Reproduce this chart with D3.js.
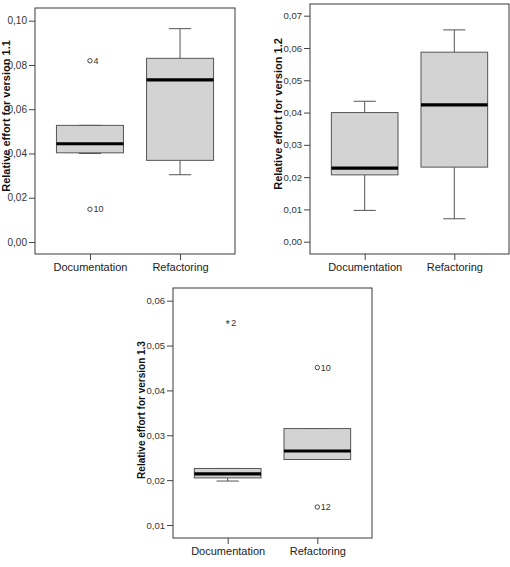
<!DOCTYPE html>
<html>
<head>
<meta charset="UTF-8">
<title>Relative effort boxplots</title>
<script src="https://cdnjs.cloudflare.com/ajax/libs/d3/7.8.5/d3.min.js"></script>
<style>
  body { margin: 0; background: #fff; }
  svg text { font-family: "Liberation Sans", Arial, sans-serif; }
</style>
</head>
<body>
<div id="draw-here"></div>
<script>

// Data

var categories = ["Documentation", "Refactoring"];

// each box: [lower whisker, q1, median, q3, upper whisker]
var boxes11 = [[0.0400, 0.0403, 0.0444, 0.0527, 0.0527], [0.0304, 0.0369, 0.0733, 0.0830, 0.0964]];
var boxes12 = [[0.0097, 0.0207, 0.0228, 0.0400, 0.0435], [0.0071, 0.0231, 0.0424, 0.0587, 0.0656]];
var boxes13 = [[0.0198, 0.0205, 0.0214, 0.0226, 0.0226], [0.0246, 0.0246, 0.0265, 0.0315, 0.0315]];

// outliers: [category index, value, case label, marker]
var outliers11 = [[0, 0.0819, "4", "o"], [0, 0.0148, "10", "o"]];
var outliers12 = [];
var outliers13 = [[0, 0.0550, "2", "*"], [1, 0.0451, "10", "o"], [1, 0.0140, "12", "o"]];

var yTicks11 = [0, 0.02, 0.04, 0.06, 0.08, 0.10];
var yTicks12 = [0, 0.01, 0.02, 0.03, 0.04, 0.05, 0.06, 0.07];
var yTicks13 = [0.01, 0.02, 0.03, 0.04, 0.05, 0.06];

var svg = d3.select("#draw-here")
    .append("svg")
    .attr("width", 510)
    .attr("height", 567);

drawPanel({
    left: 35, top: 8, width: 200, height: 246,
    domain: [0, 0.10], range: [242, 20.7],
    ticks: yTicks11, boxes: boxes11, outliers: outliers11,
    title: "Relative effort for version 1.1", titleX: 10, titleY: 116, titleSize: 11, tickFont: 10
});

drawPanel({
    left: 310, top: 4, width: 199, height: 250,
    domain: [0, 0.07], range: [241.7, 15.7],
    ticks: yTicks12, boxes: boxes12, outliers: outliers12,
    title: "Relative effort for version 1.2", titleX: 282, titleY: 114, titleSize: 11, tickFont: 9.5
});

drawPanel({
    left: 173, top: 288, width: 199, height: 250,
    domain: [0.01, 0.06], range: [525, 300.7],
    ticks: yTicks13, boxes: boxes13, outliers: outliers13,
    title: "Relative effort for version 1.3", titleX: 145, titleY: 410, titleSize: 10, tickFont: 9.5
});

function drawPanel(p) {
    var g = svg.append("g");

    var x = d3.scalePoint()
        .domain(categories)
        .range([p.left, p.left + p.width])
        .padding(0.61);

    var y = d3.scaleLinear()
        .domain(p.domain)
        .range(p.range);

    var boxW = p.width * 0.335;
    var capW = boxW / 3;

    // y axis
    var yAxis = g.append("g")
        .attr("transform", "translate(" + p.left + ",0)")
        .call(d3.axisLeft(y)
            .tickValues(p.ticks)
            .tickSize(6)
            .tickPadding(2)
            .tickFormat(function(d) { return d3.format(".2f")(d).replace(".", ","); }));
    yAxis.select(".domain").remove();
    yAxis.selectAll("line").attr("stroke", "#444");
    yAxis.selectAll("text")
        .attr("fill", "#333")
        .style("font-size", p.tickFont + "px");

    // x axis
    var xAxis = g.append("g")
        .attr("transform", "translate(0," + (p.top + p.height) + ")")
        .call(d3.axisBottom(x).tickSize(6).tickPadding(3));
    xAxis.select(".domain").remove();
    xAxis.selectAll("line").attr("stroke", "#444");
    xAxis.selectAll("text")
        .attr("fill", "#222")
        .style("font-size", "11px");

    // frame
    g.append("rect")
        .attr("x", p.left)
        .attr("y", p.top)
        .attr("width", p.width)
        .attr("height", p.height)
        .attr("fill", "none")
        .attr("stroke", "#3a3a3a")
        .attr("stroke-width", 1);

    // y title
    g.append("text")
        .attr("transform", "translate(" + p.titleX + "," + p.titleY + ") rotate(-90)")
        .attr("text-anchor", "middle")
        .attr("font-weight", "bold")
        .attr("fill", "#111")
        .style("font-size", p.titleSize + "px")
        .text(p.title);

    var box = g.selectAll(".box")
        .data(p.boxes)
        .enter()
        .append("g")
        .attr("class", "box");

    // whiskers
    box.append("line")
        .attr("x1", function(d, i) { return x(categories[i]); })
        .attr("x2", function(d, i) { return x(categories[i]); })
        .attr("y1", function(d) { return y(d[0]); })
        .attr("y2", function(d) { return y(d[1]); })
        .attr("stroke", "#555");
    box.append("line")
        .attr("x1", function(d, i) { return x(categories[i]); })
        .attr("x2", function(d, i) { return x(categories[i]); })
        .attr("y1", function(d) { return y(d[3]); })
        .attr("y2", function(d) { return y(d[4]); })
        .attr("stroke", "#555");
    [0, 4].forEach(function(k) {
        box.append("line")
            .attr("x1", function(d, i) { return x(categories[i]) - capW / 2; })
            .attr("x2", function(d, i) { return x(categories[i]) + capW / 2; })
            .attr("y1", function(d) { return y(d[k]); })
            .attr("y2", function(d) { return y(d[k]); })
            .attr("stroke", "#555");
    });

    // boxes
    box.append("rect")
        .attr("x", function(d, i) { return x(categories[i]) - boxW / 2; })
        .attr("width", boxW)
        .attr("y", function(d) { return y(d[3]); })
        .attr("height", function(d) { return y(d[1]) - y(d[3]); })
        .attr("fill", "#d3d3d3")
        .attr("stroke", "#555");

    // medians
    box.append("line")
        .attr("x1", function(d, i) { return x(categories[i]) - boxW / 2; })
        .attr("x2", function(d, i) { return x(categories[i]) + boxW / 2; })
        .attr("y1", function(d) { return y(d[2]); })
        .attr("y2", function(d) { return y(d[2]); })
        .attr("stroke", "#000")
        .attr("stroke-width", 3.2);

    // outliers
    var out = g.selectAll(".out")
        .data(p.outliers)
        .enter()
        .append("g")
        .attr("class", "out");

    out.filter(function(d) { return d[3] == "o"; })
        .append("circle")
        .attr("cx", function(d) { return x(categories[d[0]]); })
        .attr("cy", function(d) { return y(d[1]); })
        .attr("r", 2.2)
        .attr("fill", "none")
        .attr("stroke", "#333")
        .attr("stroke-width", 0.9);

    out.filter(function(d) { return d[3] == "*"; })
        .append("text")
        .attr("x", function(d) { return x(categories[d[0]]); })
        .attr("y", function(d) { return y(d[1]) + 4.5; })
        .attr("text-anchor", "middle")
        .attr("fill", "#222")
        .style("font-size", "10px")
        .text("*");

    out.append("text")
        .attr("x", function(d) { return x(categories[d[0]]) + 3.5; })
        .attr("y", function(d) { return y(d[1]); })
        .attr("dy", "0.35em")
        .attr("fill", "#333")
        .style("font-size", "9px")
        .text(function(d) { return d[2]; });
}

</script>
</body>
</html>
